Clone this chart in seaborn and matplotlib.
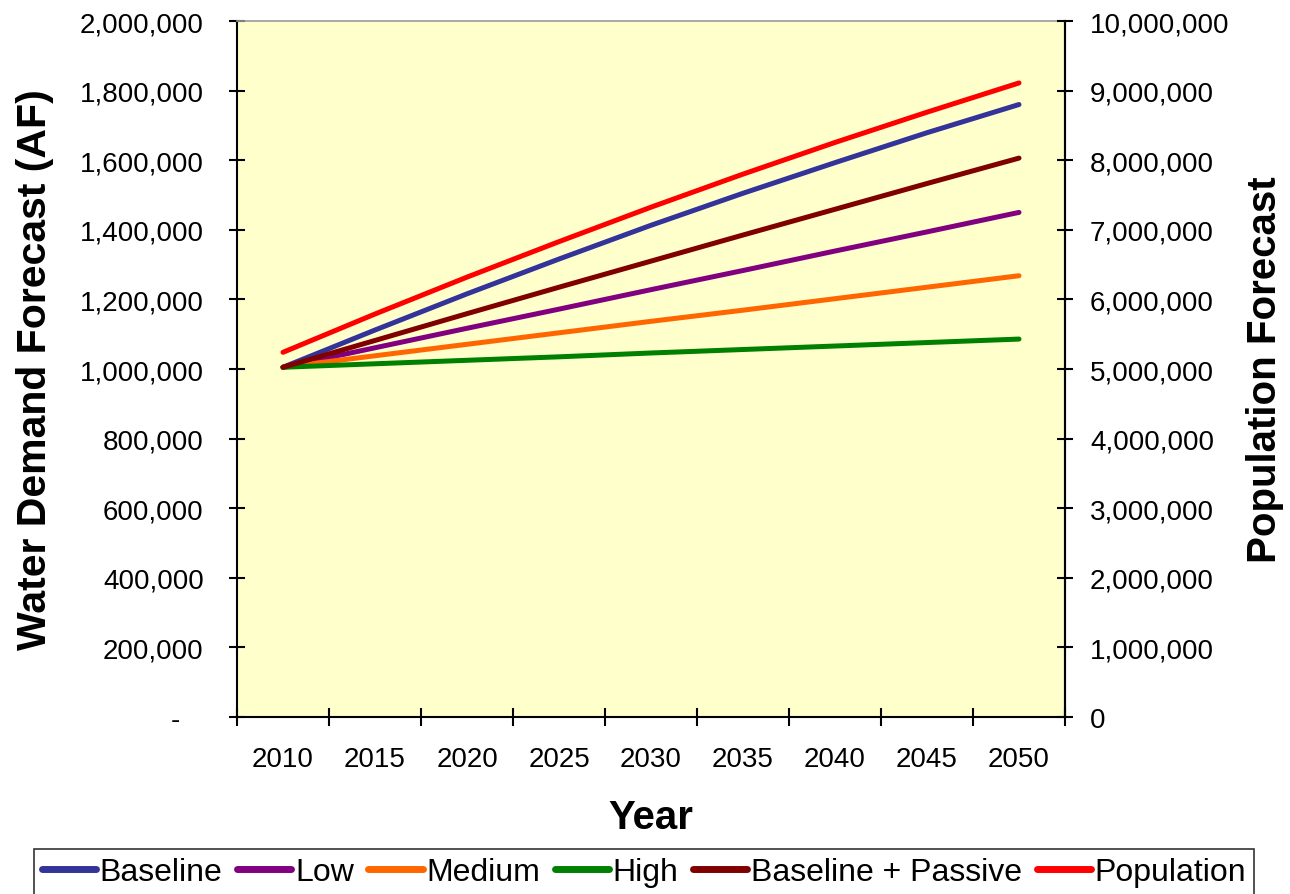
import matplotlib
matplotlib.use("Agg")
import matplotlib.pyplot as plt
from matplotlib.lines import Line2D
from matplotlib.ticker import FuncFormatter, FixedLocator
import pandas as pd
import seaborn as sns

# Data
years = ["2010", "2015", "2020", "2025", "2030", "2035", "2040", "2045", "2050"]
baseline = [1005000, 1112000, 1216000, 1316000, 1413000, 1505000, 1593000, 1679000, 1760000]
low = [1005000, 1061000, 1117000, 1172000, 1228000, 1283000, 1339000, 1394000, 1450000]
medium = [1005000, 1038000, 1071000, 1104000, 1137000, 1169000, 1202000, 1235000, 1268000]
high = [1005000, 1015000, 1025000, 1035000, 1046000, 1056000, 1066000, 1076000, 1086000]
baseline_passive = [1005000, 1082000, 1159000, 1235000, 1310000, 1385000, 1459000, 1533000, 1606000]
population = [5240000, 5790000, 6320000, 6830000, 7325000, 7800000, 8255000, 8690000, 9110000]

demand_names = ["Baseline", "Low", "Medium", "High", "Baseline + Passive"]
demand_series = [baseline, low, medium, high, baseline_passive]
colors = {
    "Baseline": "#333399",
    "Low": "#800080",
    "Medium": "#FF6600",
    "High": "#008000",
    "Baseline + Passive": "#800000",
    "Population": "#FF0000",
}

sns.set_style("ticks")
plt.rcParams["font.family"] = ["Liberation Sans", "DejaVu Sans"]
plt.rcParams["text.color"] = "black"
plt.rcParams["axes.labelcolor"] = "black"
plt.rcParams["xtick.color"] = "black"
plt.rcParams["ytick.color"] = "black"

x_idx = list(range(len(years)))
demand = pd.DataFrame(
    [(i, v, name) for name, vals in zip(demand_names, demand_series) for i, v in zip(x_idx, vals)],
    columns=["idx", "value", "scenario"],
)
pop = pd.DataFrame({"idx": x_idx, "value": population})

fig = plt.figure(figsize=(12.9, 8.95), dpi=100)
ax = fig.add_axes([237 / 1290, 1 - 718 / 895, 828 / 1290, 696 / 895])
ax.set_facecolor("#FFFFCC")
ax2 = ax.twinx()

lw = 3.6
sns.lineplot(data=demand, x="idx", y="value", hue="scenario", hue_order=demand_names,
             palette=colors, linewidth=lw, ax=ax, legend=False, solid_capstyle="round")
sns.lineplot(data=pop, x="idx", y="value", color=colors["Population"], linewidth=lw,
             ax=ax2, legend=False, solid_capstyle="round")

ax.set_xlim(-0.5, len(years) - 0.5)
ax.set_ylim(0, 2000000)
ax2.set_ylim(0, 10000000)
ax.set_yticks(range(0, 2000001, 200000))
ax2.set_yticks(range(0, 10000001, 1000000))
ax.yaxis.set_major_formatter(FuncFormatter(lambda v, p: "-   " if v == 0 else f"{v:,.0f}"))
ax2.yaxis.set_major_formatter(FuncFormatter(lambda v, p: f"{v:,.0f}"))

# category axis: ticks between categories, labels centred
ax.xaxis.set_major_locator(FixedLocator([i - 0.5 for i in range(len(years) + 1)]))
ax.xaxis.set_major_formatter(FuncFormatter(lambda v, p: ""))
ax.set_xticks(x_idx, years, minor=True)
ax.tick_params(axis="x", which="minor", length=0, pad=21, labelsize=20)
ax.tick_params(axis="x", which="major", direction="inout", length=13, width=1.5)
ax.tick_params(axis="y", direction="inout", length=12, width=1.5, pad=18, labelsize=20)
ax2.tick_params(axis="y", direction="inout", length=12, width=1.5, pad=12, labelsize=20)

for spine in ["left", "bottom", "right"]:
    ax.spines[spine].set_color("black")
    ax.spines[spine].set_linewidth(1.5)
ax.spines["top"].set_color("#999999")
ax.spines["top"].set_linewidth(1.2)
ax2.spines["right"].set_color("black")
ax2.spines["right"].set_linewidth(1.5)
for spine in ["left", "bottom", "top"]:
    ax2.spines[spine].set_visible(False)

ax.set_xlabel("Year", fontsize=29, fontweight="bold")
ax.set_ylabel("Water Demand Forecast (AF)", fontsize=29.5, fontweight="bold")
ax2.set_ylabel("Population Forecast", fontsize=29, fontweight="bold", rotation=90)
ax.xaxis.set_label_coords(0.5, -0.1437)
ax.xaxis.label.set_verticalalignment("center")
ax.yaxis.set_label_coords(-0.244, 0.5)
ax.yaxis.label.set_verticalalignment("center")
ax2.yaxis.set_label_coords(1.2415, 0.5)
ax2.yaxis.label.set_verticalalignment("center")

handles = [Line2D([], [], color=colors[n], linewidth=5) for n in demand_names + ["Population"]]
leg = fig.legend(handles, demand_names + ["Population"], loc="upper center",
                 bbox_to_anchor=(644 / 1290, 1 - 850 / 895), ncol=6, fontsize=23,
                 frameon=True, fancybox=False, edgecolor="black", handlelength=1.7,
                 handletextpad=0.12, columnspacing=0.45, borderpad=0.25, borderaxespad=0)
leg.get_frame().set_linewidth(1.2)

fig.savefig("out.png", dpi=100)
